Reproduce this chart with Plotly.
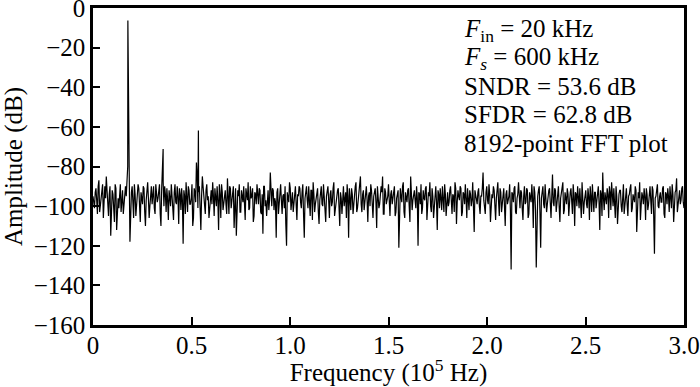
import numpy as np
import plotly.graph_objects as go

# Noise-floor amplitudes (dB), evenly spaced bins over 0-3.0 (x10^5 Hz)
noise_low = [
    -95, -101, -91, -104, -87, -99, -93, -106, -90, -85, -102, -94, -115, -92, -100, -89, -112, -96, -91, -103,
    -92, -98, -90, -86, -75, -118, -93, -101, -89, -105, -94, -91, -108, -95, -90, -103, -97, -88, -106, -93,
    -99, -90, -104, -92, -96, -89, -110, -83, -100, -94, -91, -107, -95, -89, -102, -93, -98, -90, -109, -94,
    -91, -119, -95, -88, -103, -92, -99, -89, -106, -93, -78, -101, -90, -112, -85, -97, -104, -89, -95, -100,
    -92, -88, -105, -94, -90, -112, -94, -89, -102, -93, -99, -86, -104, -91, -97, -90, -94, -115, -92, -89,
    -103, -95, -90, -107, -93, -88, -101, -96, -91, -105, -94, -89, -99, -92, -104, -114, -90, -97, -93, -102,
    -83, -100, -92, -96, -116, -91, -98, -89, -104, -94, -90, -120, -95, -88, -102, -93, -99, -90, -107, -95,
]
noise_mid = [
    -91, -101, -89, -116, -94, -97, -90, -105, -92, -88, -103, -96, -91, -109, -93, -99, -89, -104, -95, -90,
    -106, -92, -98, -88, -102, -94, -91, -110, -96, -90, -100, -93, -89, -116, -95, -91, -104, -97, -88, -101,
    -94, -85, -103, -92, -98, -90, -108, -93, -89, -101, -95, -91, -111, -94, -99, -90, -85, -104, -93, -97,
    -89, -105, -92, -96, -90, -103, -94, -121, -91, -98, -88, -106, -95, -92, -100, -85, -102, -93, -97, -90,
    -120, -94, -89, -101, -96, -91, -107, -93, -88, -103, -95, -99, -90, -112, -94, -91, -102, -97, -89, -105,
    -93, -98, -90, -104, -95, -88, -109, -92, -97, -91, -103, -94, -89, -106, -96, -92, -100, -88, -113, -94,
    -99, -91, -104, -95, -83, -101, -93, -97, -89, -108, -94, -90, -102, -96, -88, -105, -93, -99, -91, -110,
]
noise_high = [
    -92, -97, -89, -132, -94, -91, -103, -96, -88, -101, -93, -107, -90, -98, -92, -104, -95, -89, -111, -93,
    -131, -95, -90, -121, -93, -99, -89, -103, -94, -91, -106, -84, -100, -92, -97, -90, -108, -94, -88, -102,
    -95, -91, -105, -93, -98, -89, -110, -94, -90, -101, -96, -88, -104, -92, -99, -91, -107, -95, -89, -103,
    -93, -97, -90, -112, -94, -83, -102, -95, -91, -106, -93, -88, -100, -96, -90, -109, -94, -92, -103, -89,
    -98, -91, -105, -94, -89, -101, -96, -90, -113, -93, -88, -102, -95, -91, -107, -94, -99, -90, -104, -92,
    -124, -95, -89, -101, -93, -98, -90, -106, -94, -91, -103, -96, -89, -108, -93, -86, -100, -92, -97, -90,
    -101,
]
# Values read between the bins above (half-bin offsets), making the dense floor
noise_between = [
    -100, -93, -97, -90, -103, -95, -89, -99, -96, -92, -105, -90, -98, -94, -108, -91, -96, -101, -89, -97,
    -104, -91, -95, -80, -82, -99, -90, -106, -94, -97, -89, -102, -93, -99, -91, -110, -92, -96, -100, -90,
    -95, -101, -89, -98, -93, -104, -91, -88, -90, -103, -97, -92, -100, -94, -107, -89, -99, -95, -91, -102,
    -97, -92, -104, -94, -90, -99, -96, -110, -91, -98, -84, -93, -101, -95, -90, -103, -92, -97, -106, -93,
    -99, -95, -91, -100, -97, -89, -106, -93, -98, -92, -104, -94, -90, -101, -96, -111, -91, -99, -95, -103,
    -92, -98, -104, -91, -97, -102, -90, -95, -108, -93, -99, -96, -91, -103, -94, -90, -100, -105, -92, -97,
    -96, -91, -102, -98, -93, -104, -90, -97, -95, -101, -109, -93, -98, -91, -96, -103, -92, -99, -94, -90,
    -98, -93, -104, -96, -90, -101, -95, -92, -107, -94, -99, -91, -103, -97, -90, -100, -95, -108, -92, -97,
    -94, -100, -91, -105, -96, -92, -99, -93, -104, -90, -97, -106, -95, -91, -102, -94, -98, -90, -103, -96,
    -91, -99, -94, -102, -90, -97, -95, -100, -92, -106, -93, -98, -90, -101, -96, -93, -104, -91, -99, -95,
    -102, -94, -99, -91, -105, -96, -92, -100, -95, -90, -103, -93, -98, -91, -108, -94, -97, -92, -101, -96,
    -93, -99, -104, -92, -97, -90, -102, -95, -100, -91, -106, -94, -98, -92, -101, -96, -90, -103, -94, -99,
    -100, -92, -97, -94, -103, -91, -98, -95, -90, -105, -93, -99, -96, -91, -102, -94, -97, -109, -92, -98,
    -93, -100, -95, -91, -97, -104, -90, -99, -94, -101, -96, -92, -107, -93, -98, -91, -103, -95, -100, -94,
    -99, -95, -102, -93, -98, -90, -104, -94, -97, -92, -101, -95, -99, -91, -106, -93, -98, -96, -90, -102,
    -97, -92, -103, -96, -90, -101, -94, -99, -92, -105, -95, -98, -91, -103, -94, -100, -96, -92, -104, -93,
    -99, -94, -97, -91, -104, -95, -93, -100, -96, -91, -106, -94, -98, -92, -101, -95, -90, -103, -97, -93,
    -101, -95, -98, -92, -105, -96, -93, -99, -94, -90, -102, -97, -91, -106, -95, -98, -92, -100, -96, -104,
    -93, -99, -95, -91, -103, -94, -98, -92, -100, -96, -107, -93, -99, -95, -91, -102, -94, -97, -90, -105,
    -96, -92, -100, -95, -98, -91, -104, -93, -99, -95, -90, -101, -94, -97, -92, -103, -95, -99, -91, -98,
]

# Signal tone and harmonics
spike_freq = [0.177, 0.356, 0.535]
spike_db = [-6.3, -71.2, -61.8]

# Axis ticks
x_tickvals = [0, 0.5, 1.0, 1.5, 2.0, 2.5, 3.0]
x_ticktext = ["0", "0.5", "1.0", "1.5", "2.0", "2.5", "3.0"]
y_tickvals = [0, -20, -40, -60, -80, -100, -120, -140, -160]

noise = noise_low + noise_mid + noise_high
bin_freq = np.linspace(0.0, 3.0, len(noise))
mid_freq = (bin_freq[:-1] + bin_freq[1:]) / 2

freq = np.concatenate([bin_freq, mid_freq, spike_freq])
amp = np.concatenate([noise, noise_between, spike_db])
order = np.argsort(freq, kind="stable")
freq = freq[order]
amp = amp[order]

FONT = "Liberation Serif"
FS = 25

fig = go.Figure()
fig.add_trace(go.Scatter(x=freq, y=amp, mode="lines",
                         line=dict(color="black", width=1.2), hoverinfo="skip",
                         showlegend=False))

axis_common = dict(showline=True, linecolor="black", linewidth=2.5, mirror=True,
                   ticks="inside", tickcolor="black", tickwidth=2,
                   showgrid=False, zeroline=False, automargin=False,
                   ticklabeloverflow="allow",
                   tickfont=dict(family=FONT, size=FS, color="black"))

fig.update_layout(
    width=700, height=387,
    margin=dict(l=93, r=16, t=8, b=62),
    paper_bgcolor="white", plot_bgcolor="white",
    font=dict(family=FONT, size=FS, color="black"),
    xaxis=dict(range=[0, 3.0], tickvals=x_tickvals, ticktext=x_ticktext, ticklen=8,
               ticklabelstandoff=-4,
               title=dict(text="Frequency (10<sup>5</sup> Hz)", standoff=5,
                          font=dict(family=FONT, size=FS)),
               **axis_common),
    yaxis=dict(range=[-160, 0], tickvals=y_tickvals, ticklen=7,
               title=dict(text="Amplitude (dB)", standoff=9,
                          font=dict(family=FONT, size=FS)),
               **axis_common),
)

lines = [
    "<i>F</i><sub>in</sub> = 20 kHz",
    "<i>F</i><sub><i>s</i></sub> = 600 kHz",
    "SNDR = 53.6 dB",
    "SFDR = 62.8 dB",
    "8192-point FFT plot",
]
centers_px = [30, 58, 86, 114.5, 143]
for txt, cy in zip(lines, centers_px):
    fig.add_annotation(text=txt, xref="paper", yref="paper",
                       x=(462 - 93) / (700 - 93 - 16), y=(325 - cy) / (387 - 8 - 62),
                       xanchor="left", yanchor="middle", showarrow=False,
                       font=dict(family=FONT, size=FS, color="black"))

fig.write_html("out.html", config={"displayModeBar": False},
               post_script="document.body.style.margin='0';document.body.style.overflow='hidden';")
